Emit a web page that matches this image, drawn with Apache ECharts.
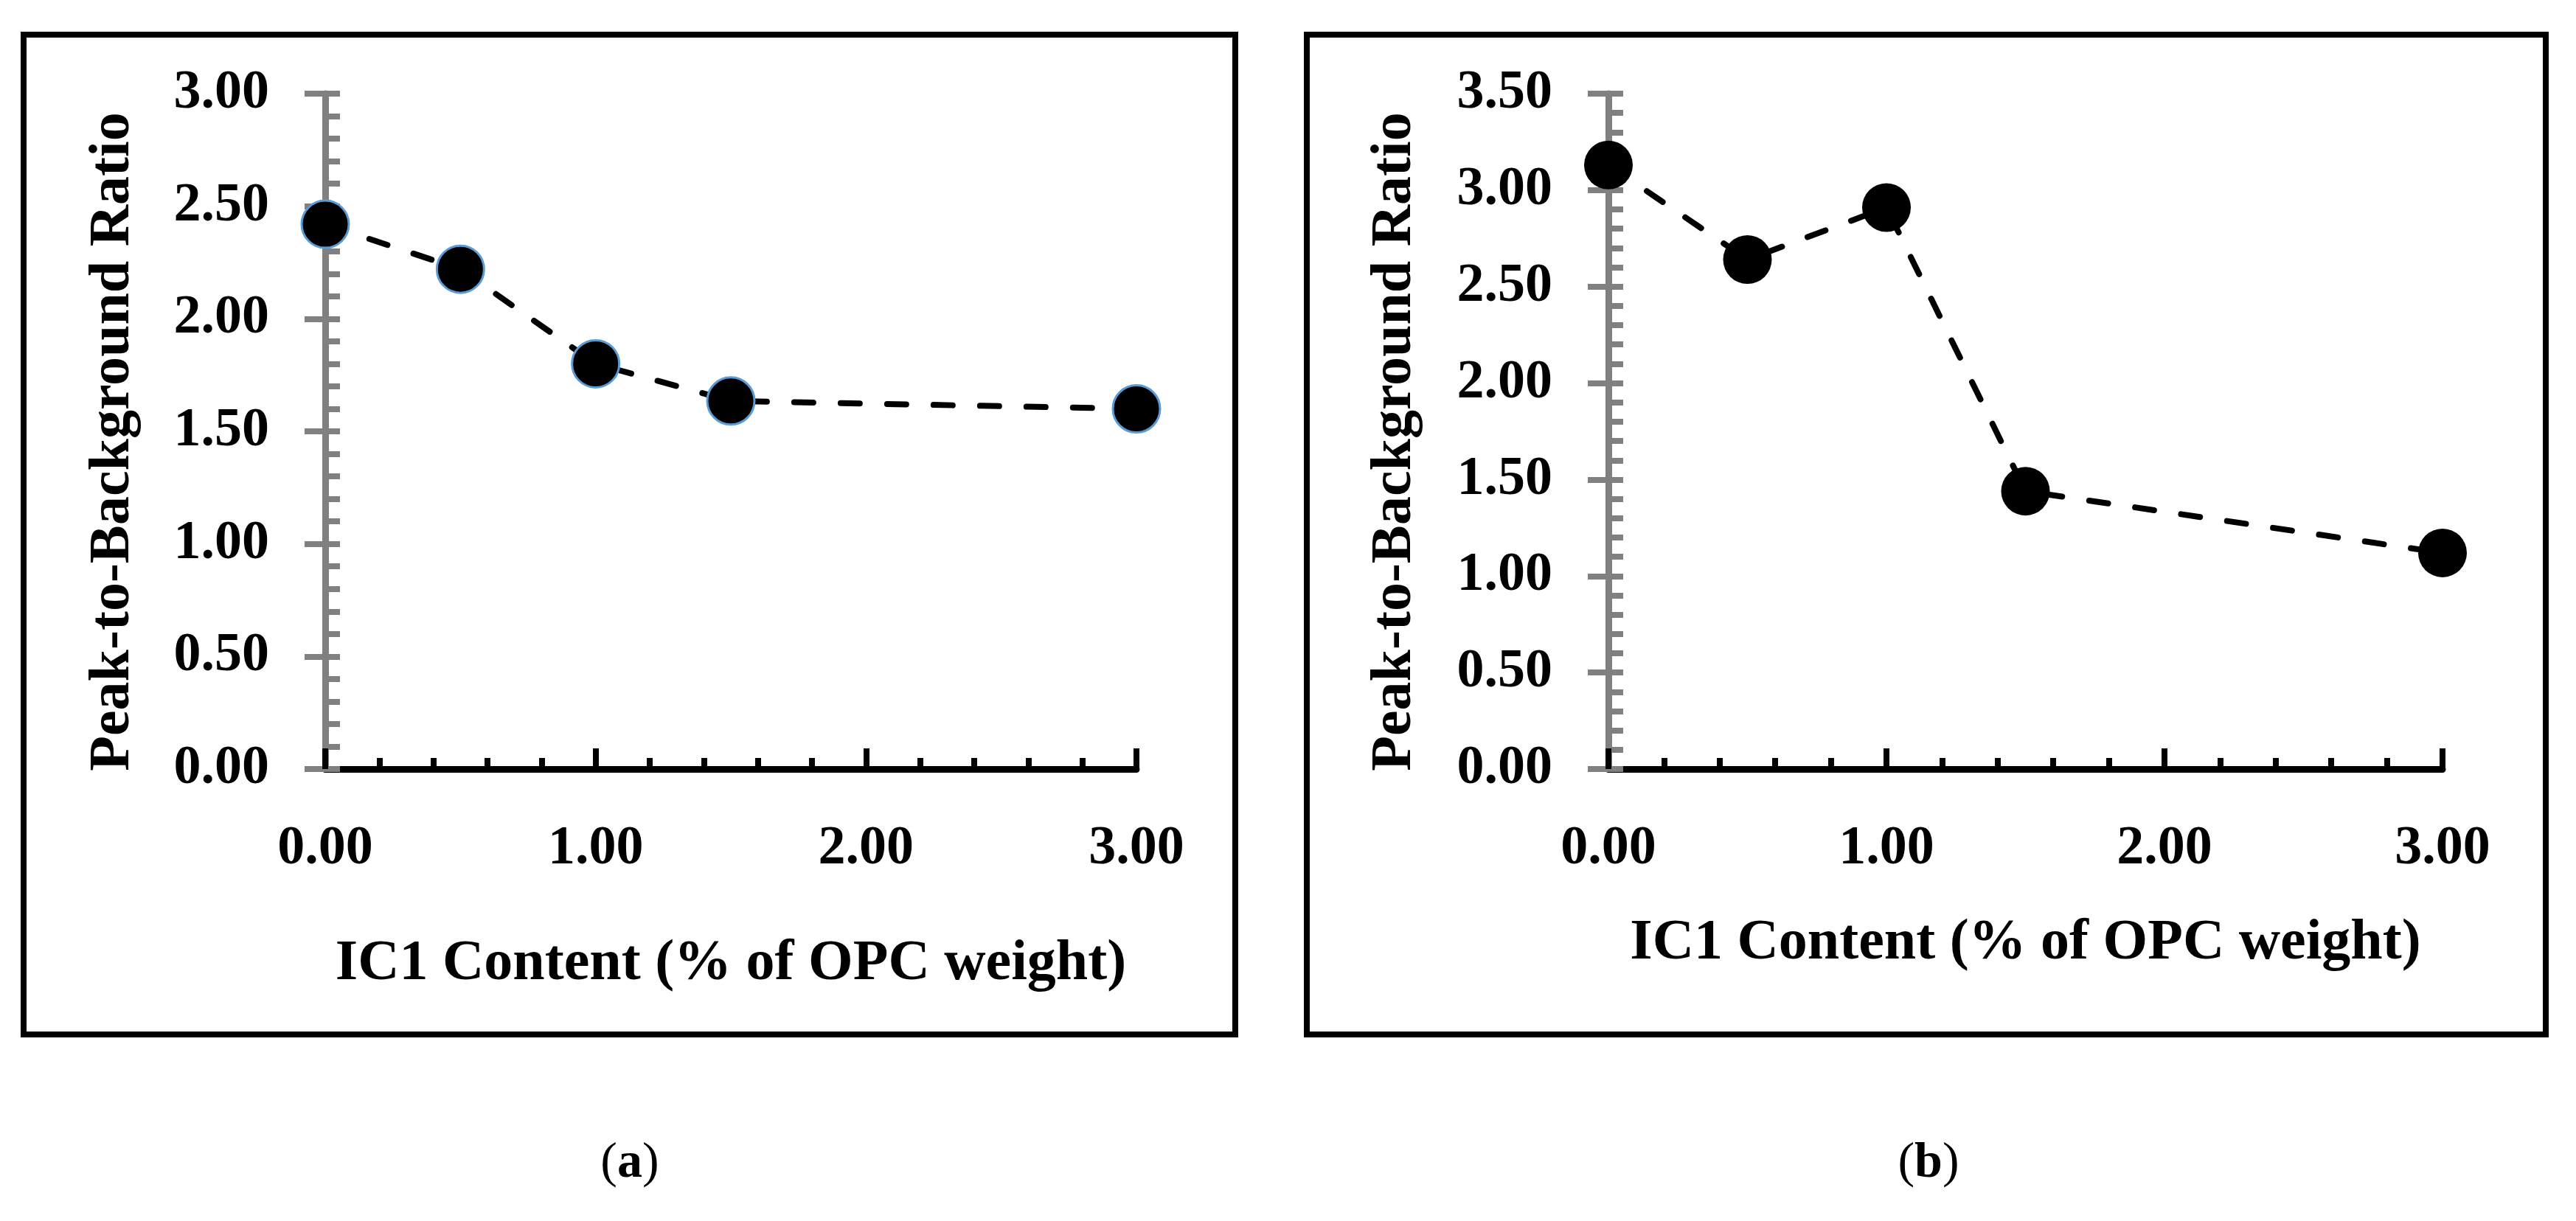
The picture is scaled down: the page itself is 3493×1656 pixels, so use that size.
<!DOCTYPE html>
<html>
<head>
<meta charset="utf-8">
<script src="https://cdn.jsdelivr.net/npm/echarts@6/dist/echarts.min.js"></script>
<style>
html,body{margin:0;padding:0;background:#fff;}
#chart{width:3493px;height:1656px;}
</style>
</head>
<body>
<div id="chart"></div>
<script>
// ---- data ----
const icContent = [0, 0.5, 1.0, 1.5, 3.0];
const ratioA = [2.42, 2.22, 1.80, 1.635, 1.60];
const ratioB = [3.13, 2.64, 2.91, 1.44, 1.12];
const xAxisTitle = 'IC1 Content (% of OPC weight)';
const yAxisTitle = 'Peak-to-Background Ratio';
const panelLabels = ['a', 'b'];
const yMaxA = 3.0, yMaxB = 3.5;
const xMax = 3.0;

const FONT = '"Liberation Serif", "DejaVu Serif", serif';
const pairs = (xs, ys) => xs.map((x, i) => [x, ys[i]]);

const grids = [
  {left: 441, top: 127, width: 1100, height: 916},
  {left: 2181, top: 127, width: 1131, height: 916}
];

function mainX(gi, gap) {
  return {
    type: 'value', gridIndex: gi, min: 0, max: xMax, interval: 1,
    name: xAxisTitle, nameLocation: 'middle', nameGap: gap,
    nameTextStyle: {fontFamily: FONT, fontWeight: 'bold', fontSize: 78, color: '#000'},
    axisLine: {show: true, onZero: false, lineStyle: {color: '#000', width: 9}},
    axisTick: {show: true, inside: true, length: 15, lineStyle: {color: '#000', width: 8}},
    minorTick: {show: true, splitNumber: 5, length: 15, lineStyle: {color: '#000', width: 8}},
    axisLabel: {show: true, margin: 72, fontFamily: FONT, fontWeight: 'bold', fontSize: 74, color: '#000',
      formatter: v => v.toFixed(2)},
    splitLine: {show: false}
  };
}
function overlayX(gi) {
  return {
    type: 'value', gridIndex: gi, min: 0, max: xMax, interval: 1,
    axisLine: {show: false},
    axisTick: {show: true, inside: false, length: 28, lineStyle: {color: '#000', width: 8}},
    axisLabel: {show: false}, splitLine: {show: false}
  };
}
function mainY(gi, ymax, gap) {
  return {
    type: 'value', gridIndex: gi, min: 0, max: ymax, interval: 0.5, position: 'left',
    name: yAxisTitle, nameLocation: 'middle', nameGap: gap,
    nameTextStyle: {fontFamily: FONT, fontWeight: 'bold', fontSize: 78, color: '#000', padding: [0, 28, 0, 0]},
    axisLine: {show: true, onZero: false, lineStyle: {color: '#808080', width: 9}},
    axisTick: {show: true, inside: true, length: 20, lineStyle: {color: '#808080', width: 8}},
    minorTick: {show: true, splitNumber: 5, length: 20, lineStyle: {color: '#808080', width: 8}},
    axisLabel: {show: true, margin: 76, fontFamily: FONT, fontWeight: 'bold', fontSize: 74, color: '#000',
      formatter: v => v.toFixed(2)},
    splitLine: {show: false}
  };
}
function overlayY(gi, ymax) {
  return {
    type: 'value', gridIndex: gi, min: 0, max: ymax, interval: 0.5, position: 'left', offset: 0,
    axisLine: {show: false},
    axisTick: {show: true, inside: false, length: 28, lineStyle: {color: '#808080', width: 8}},
    axisLabel: {show: false}, splitLine: {show: false}
  };
}

function lineSeries(xi, yi, data, border, size, bw) {
  return {
    type: 'line', xAxisIndex: xi, yAxisIndex: yi, data: data,
    symbol: 'circle', symbolSize: size,
    lineStyle: {color: '#000', width: 8, type: [26, 37], cap: 'round'},
    itemStyle: {color: '#000', borderColor: border, borderWidth: bw},
    z: 5
  };
}

const chart = echarts.init(document.getElementById('chart'), null, {renderer: 'canvas'});
chart.setOption({
  animation: false,
  backgroundColor: '#fff',
  grid: grids,
  xAxis: [mainX(0, 226), mainX(1, 198), overlayX(0), overlayX(1)],
  yAxis: [overlayY(0, yMaxA), overlayY(1, yMaxB), mainY(0, yMaxA, 248), mainY(1, yMaxB, 250)],
  series: [
    lineSeries(0, 2, pairs(icContent, ratioA), '#5B9BD5', 64, 3),
    lineSeries(1, 3, pairs(icContent, ratioB), '#000', 66, 0)
  ],
  graphic: [
    {type: 'rect', shape: {x: 32, y: 47, width: 1643, height: 1356},
     style: {fill: 'none', stroke: '#000', lineWidth: 8}, z: 0},
    {type: 'rect', shape: {x: 1772, y: 47, width: 1680, height: 1356},
     style: {fill: 'none', stroke: '#000', lineWidth: 8}, z: 0},
    {type: 'text', x: 854, y: 1578, style: {
      text: '(' + '{b|' + panelLabels[0] + '}' + ')', align: 'center', verticalAlign: 'middle',
      font: '68px ' + FONT, fill: '#000',
      rich: {b: {fontFamily: FONT, fontWeight: 'bold', fontSize: 68, fill: '#000'}}}},
    {type: 'text', x: 2615, y: 1578, style: {
      text: '(' + '{b|' + panelLabels[1] + '}' + ')', align: 'center', verticalAlign: 'middle',
      font: '68px ' + FONT, fill: '#000',
      rich: {b: {fontFamily: FONT, fontWeight: 'bold', fontSize: 68, fill: '#000'}}}}
  ]
});
</script>
</body>
</html>
